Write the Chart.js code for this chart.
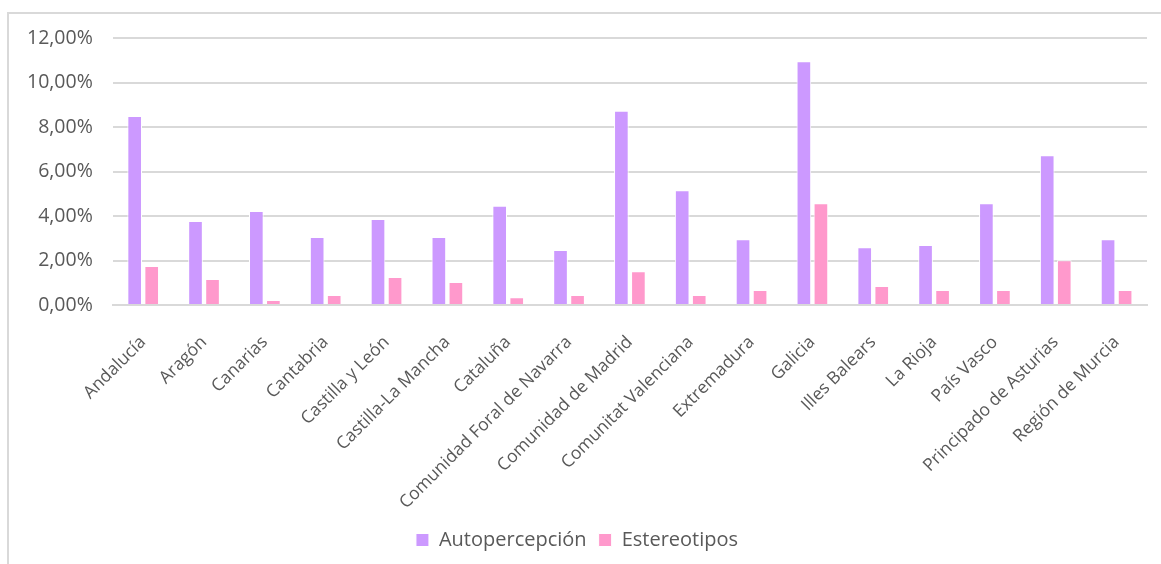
<!DOCTYPE html>
<html lang="es">
<head>
  <meta charset="UTF-8">
  <title>Autopercepción y estereotipos por comunidad</title>
  <script src="https://cdn.jsdelivr.net/npm/chart.js"></script>
  <style>
    body { margin: 0; background: white; width: 1161px; height: 564px; overflow: hidden; position: relative; }
    #frame { position: absolute; left: 7px; top: 12px; width: 1170px; height: 570px; border: 2px solid #d9d9d9; box-sizing: border-box; }
    #wrap { position: absolute; left: 0; top: 0; width: 1161px; height: 564px; }
  </style>
</head>
<body>
<div id="frame"></div>
<div id="wrap"><canvas id="chart"></canvas></div>

<script>
const regions = ['Andalucía', 'Aragón', 'Canarias', 'Cantabria', 'Castilla y León', 'Castilla-La Mancha', 'Cataluña',
  'Comunidad Foral de Navarra', 'Comunidad de Madrid', 'Comunitat Valenciana', 'Extremadura', 'Galicia',
  'Illes Balears', 'La Rioja', 'País Vasco', 'Principado de Asturias', 'Región de Murcia'];
const autopercepcion = [8.5, 3.78, 4.22, 3.06, 3.87, 3.06, 4.46, 2.47, 8.73, 5.16, 2.96, 10.96, 2.6, 2.7, 4.57, 6.73, 2.96];
const estereotipos = [1.75, 1.17, 0.22, 0.45, 1.26, 1.03, 0.35, 0.45, 1.52, 0.45, 0.67, 4.57, 0.85, 0.67, 0.67, 2.01, 0.67];
const yTicks = [0, 2, 4, 6, 8, 10, 12];

const textColor = '#595959';
const gridColor = '#d9d9d9';
const fontFamily = '"Open Sans", "DejaVu Sans", sans-serif';

function pct(v) { return v.toFixed(2).replace('.', ',') + '%'; }

new Chart(document.getElementById('chart'), {
  type: 'bar',
  data: {
    labels: regions,
    datasets: [
      { label: 'Autopercepción', data: autopercepcion, backgroundColor: '#cc99ff', borderColor: '#ffffff', borderWidth: 1,
        barPercentage: 0.86, categoryPercentage: 0.56 },
      { label: 'Estereotipos', data: estereotipos, backgroundColor: '#ff99cc', borderColor: '#ffffff', borderWidth: 1,
        barPercentage: 0.86, categoryPercentage: 0.56 }
    ]
  },
  options: {
    responsive: true,
    maintainAspectRatio: false,
    animation: false,
    layout: { padding: { top: 38, left: 7, right: 14, bottom: 4 } },
    plugins: {
      tooltip: { enabled: false },
      legend: {
        position: 'bottom',
        labels: { color: textColor, boxWidth: 13, boxHeight: 13, padding: 12, font: { family: fontFamily, size: 20 } }
      }
    },
    scales: {
      x: {
        grid: { display: false },
        border: { color: gridColor, width: 2 },
        // fixed height so the axis sits where the original has it
        afterFit: s => { s.height = 213; },
        ticks: { color: textColor, minRotation: 45, maxRotation: 45, autoSkip: false, padding: 19,
                 font: { family: fontFamily, size: 17.5 } }
      },
      y: {
        min: 0, max: 12,
        afterBuildTicks: axis => { axis.ticks = yTicks.map(v => ({ value: v })); },
        grid: { color: gridColor, lineWidth: 2, drawTicks: false },
        border: { display: false },
        ticks: { color: textColor, padding: 20, callback: v => pct(v), font: { family: fontFamily, size: 19.5 } }
      }
    }
  }
});
</script>
</body>
</html>
